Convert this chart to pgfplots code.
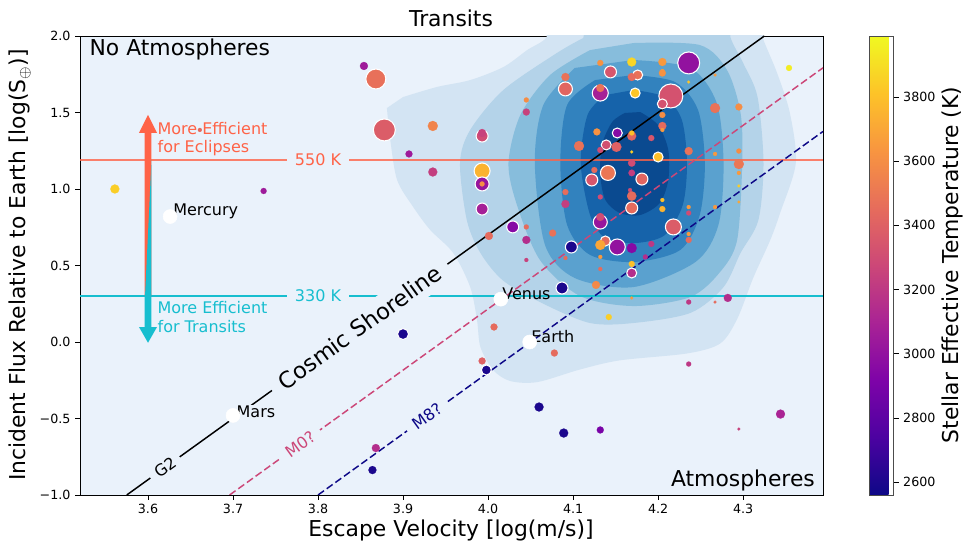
\documentclass[border=0pt]{standalone}
\usepackage{pgfplots}
\pgfplotsset{compat=1.18}
\usepackage{fontspec}
\setmainfont{DejaVu Sans}
\definecolor{bgblue}{HTML}{EAF2FB}
\definecolor{lv1}{HTML}{D3E4F3}
\definecolor{lv2}{HTML}{B4D3E9}
\definecolor{lv3}{HTML}{87BDDC}
\definecolor{lv4}{HTML}{5AA1CF}
\definecolor{lv5}{HTML}{3282BE}
\definecolor{lv6}{HTML}{1663AA}
\definecolor{lv7}{HTML}{0A4A90}
\definecolor{tomatoc}{HTML}{FF6347}
\definecolor{cyanc}{HTML}{17BECF}
\definecolor{mzero}{HTML}{CC4778}
\definecolor{meight}{HTML}{0D0887}
\pgfplotsset{colormap={plasma}{rgb255=(13,8,135) rgb255=(76,2,161) rgb255=(126,3,168) rgb255=(169,35,149) rgb255=(204,71,120) rgb255=(230,108,92) rgb255=(248,149,64) rgb255=(253,195,40) rgb255=(240,249,33)}}
\newcommand{\bigf}{\fontsize{16.4}{19.5}\selectfont}
\newcommand{\midf}{\fontsize{12}{13.8}\selectfont}
\newcommand{\tickf}{\fontsize{9.5}{11}\selectfont}
\begin{document}
\begin{tikzpicture}
\useasboundingbox (0,0) rectangle (723pt,408.75pt);
\begin{axis}[
  at={(60pt,37.5pt)}, anchor=south west,
  scale only axis, width=557.25pt, height=344.25pt,
  xmin=3.52, xmax=4.394, ymin=-1, ymax=2,
  axis background/.style={fill=bgblue},
  xtick={3.6,3.7,3.8,3.9,4.0,4.1,4.2,4.3},
  xticklabels={3.6,3.7,3.8,3.9,4.0,4.1,4.2,4.3},
  ytick={-1,-0.5,0,0.5,1,1.5,2},
  yticklabels={−1.0,−0.5,0.0,0.5,1.0,1.5,2.0},
  tick align=outside, tick pos=left,
  major tick length=3.6pt,
  tick style={black, line width=0.6pt},
  ticklabel style={font=\tickf},
  axis line style={black, line width=0.6pt},
  colormap name=plasma, point meta min=2560, point meta max=3990,
  colorbar,
  colorbar style={at={(parent axis.north east)}, anchor=north west, xshift=26.5pt, width=18pt,
    ytick={2600,2800,3000,3200,3400,3600,3800},
    yticklabels={2600,2800,3000,3200,3400,3600,3800},
    scaled y ticks=false, tick align=outside, ytick pos=right, yticklabel pos=right,
    major tick length=3.6pt, tick style={black, line width=0.6pt},
    yticklabel style={font=\tickf}, axis line style={black!70, line width=0.6pt}},
]
% KDE contour levels
\addplot[draw=none, fill=lv1, smooth] coordinates {(3.881,1.529) (3.885,1.320) (3.893,1.059) (3.912,0.882) (3.932,0.732) (3.959,0.582) (3.979,0.359) (3.987,0.144) (3.991,-0.033) (4.006,-0.183) (4.026,-0.255) (4.058,-0.262) (4.108,-0.18) (4.155,-0.12) (4.234,-0.075) (4.273,-0.01) (4.293,0.15) (4.312,0.42) (4.332,0.667) (4.344,0.85) (4.362,1.17) (4.355,1.497) (4.340,1.758) (4.324,1.974) (4.314,2.15) (4.073,2.15) (4.069,1.993) (4.046,1.908) (4.018,1.797) (3.979,1.712) (3.940,1.667) (3.900,1.601)} -- cycle;
\addplot[draw=none, fill=lv2, smooth] coordinates {(4.120,2.2) (4.279,2.2) (4.285,1.993) (4.300,1.824) (4.317,1.601) (4.324,1.170) (4.318,0.797) (4.297,0.582) (4.277,0.359) (4.238,0.190) (4.171,0.124) (4.120,0.124) (4.065,0.25) (4.018,0.40) (3.991,0.582) (3.975,0.797) (3.967,1.170) (3.979,1.386) (4.018,1.647) (4.081,1.889) (4.112,1.987)} -- cycle;
\addplot[draw=none, fill=lv3, smooth] coordinates {(4.171,1.954) (4.249,1.941) (4.281,1.778) (4.297,1.497) (4.299,1.170) (4.293,0.667) (4.273,0.458) (4.238,0.294) (4.171,0.235) (4.108,0.301) (4.061,0.536) (4.034,0.895) (4.024,1.170) (4.038,1.484) (4.073,1.745) (4.120,1.908)} -- cycle;
\addplot[draw=none, fill=lv4, smooth] coordinates {(4.171,1.843) (4.238,1.791) (4.269,1.562) (4.277,1.170) (4.271,0.765) (4.244,0.523) (4.171,0.359) (4.102,0.418) (4.067,0.634) (4.055,1.170) (4.065,1.549) (4.102,1.791)} -- cycle;
\addplot[draw=none, fill=lv5, smooth] coordinates {(4.171,1.745) (4.220,1.699) (4.247,1.516) (4.255,1.170) (4.249,0.830) (4.226,0.601) (4.172,0.523) (4.120,0.569) (4.093,0.765) (4.085,1.170) (4.093,1.549) (4.126,1.712)} -- cycle;
\addplot[draw=none, fill=lv6, smooth] coordinates {(4.171,1.647) (4.208,1.601) (4.228,1.451) (4.234,1.170) (4.229,0.895) (4.208,0.699) (4.173,0.647) (4.138,0.680) (4.120,0.830) (4.109,1.170) (4.117,1.484) (4.138,1.614)} -- cycle;
\addplot[draw=none, fill=lv7, smooth] coordinates {(4.179,1.503) (4.200,1.418) (4.212,1.255) (4.212,1.059) (4.202,0.908) (4.179,0.830) (4.155,0.843) (4.138,0.928) (4.132,1.092) (4.134,1.288) (4.146,1.438) (4.161,1.497)} -- cycle;
% horizontal temperature lines
\addplot[tomatoc, opacity=0.8, line width=1.5pt] coordinates {(3.52,1.19) (4.394,1.19)};
\addplot[cyanc, line width=1.5pt] coordinates {(3.52,0.30) (4.394,0.30)};
% shorelines
\addplot[black, line width=1.1pt] coordinates {(3.575,-1) (4.325,2)};
\addplot[mzero, line width=1.1pt, dash pattern=on 5.5pt off 2.5pt] coordinates {(3.696,-1) (4.394,1.792)};
\addplot[meight, line width=1.1pt, dash pattern=on 5.5pt off 2.5pt] coordinates {(3.8,-1) (4.394,1.376)};
% line labels
\node[fill=bgblue, text=tomatoc, inner xsep=6pt, inner ysep=1pt, font=\midf] at (axis cs:3.80,1.19) {550 K};
\node[fill=bgblue, text=cyanc, inner xsep=6pt, inner ysep=1pt, font=\midf] at (axis cs:3.80,0.30) {330 K};
\node[fill=bgblue, inner sep=1pt, anchor=west, font=\midf] at (axis cs:3.7024,-0.458) {Mars};
\node[fill=bgblue, rotate=35.8, inner xsep=8pt, inner ysep=5pt, font=\fontsize{16.9}{19}\selectfont] at (axis cs:3.849,0.096) {Cosmic Shoreline};
\node[fill=bgblue, rotate=35.8, inner xsep=5pt, inner ysep=1pt, font=\midf] at (axis cs:3.62,-0.82) {G2};
\node[fill=bgblue, rotate=35.8, text=mzero, inner xsep=6pt, inner ysep=1pt, font=\midf] at (axis cs:3.779,-0.668) {M0?};
\node[fill=bgblue, rotate=35.8, text=meight, inner xsep=6pt, inner ysep=1pt, font=\midf] at (axis cs:3.928,-0.488) {M8?};
% efficiency arrow
\addplot[draw=none, fill=tomatoc] coordinates {(3.5959,0.30) (3.5959,1.366) (3.5894,1.366) (3.600,1.484) (3.6106,1.366) (3.6041,1.366) (3.6041,0.30)} -- cycle;
\addplot[draw=none, fill=cyanc] coordinates {(3.6041,1.19) (3.6041,0.30) (3.5965,0.30)} -- cycle;
\addplot[draw=none, fill=cyanc] coordinates {(3.5959,0.31) (3.5959,0.098) (3.5894,0.098) (3.600,-0.005) (3.6106,0.098) (3.6041,0.098) (3.6041,0.31)} -- cycle;
\node[anchor=west, align=left, text=tomatoc, inner sep=0pt, font=\midf] at (axis cs:3.611,1.327) {More Efficient\\for Eclipses};
\node[anchor=west, align=left, text=cyanc, inner sep=0pt, font=\midf] at (axis cs:3.611,0.163) {More Efficient\\for Transits};
% planets with white outline
\addplot[scatter, only marks, mark=*, scatter src=explicit,
  scatter/use mapped color={draw=white, fill=mapped color},
  visualization depends on={\thisrow{r} \as \rr},
  scatter/@pre marker code/.append style={/tikz/mark size=0.75*\rr},
  line width=0.8pt] table[x=x, y=y, meta=t] {
x y t r
3.868 1.719 3470 10
3.878 1.386 3380 11
3.993 1.346 3300 6
3.993 1.118 3750 8
3.993 1.033 3020 7
3.993 0.869 3080 6
4.029 0.752 2950 6
4.091 1.654 3420 7
4.098 0.621 2600 6
4.132 1.627 3080 8
4.144 1.765 3350 6
4.139 1.288 3320 5
4.152 1.366 2950 5
4.141 1.105 3500 7.5
4.122 1.059 3350 6
4.132 0.784 3020 7
4.138 0.660 3450 5
4.152 0.621 3000 8
4.176 1.745 3480 5
4.173 1.627 3820 5
4.169 0.876 3450 6
4.181 1.065 3420 6
4.200 1.209 3800 5
4.169 0.451 3150 5
4.215 1.608 3330 12
4.205 1.556 3330 5
4.236 1.824 3000 11
4.218 0.752 3380 8
4.087 0.353 2600 6
3.998 -0.183 2600 5
3.900 0.052 2600 5.5
};
% planets without outline
\addplot[scatter, only marks, mark=*, scatter src=explicit,
  scatter/use mapped color={draw=mapped color, fill=mapped color},
  visualization depends on={\thisrow{r} \as \rr},
  scatter/@pre marker code/.append style={/tikz/mark size=0.75*\rr},
  line width=0.1pt] table[x=x, y=y, meta=t] {
x y t r
3.854 1.804 3050 4
3.935 1.412 3560 5
3.907 1.229 3050 3.5
3.935 1.111 3230 4.5
3.993 1.366 3250 4
3.993 1.033 3600 2.5
4.001 0.693 3450 4
3.561 1.000 3850 4.5
3.736 0.987 3050 3
3.661 1.386 3450 2
4.045 1.582 3600 2.5
4.045 1.503 3250 3.5
4.045 0.752 3450 2.5
4.045 0.667 3150 4
4.045 0.536 3250 2
4.076 0.712 3480 3.5
4.091 1.732 3480 4
4.091 0.980 3460 3
4.091 0.902 3230 4
4.091 0.549 3450 2
4.107 1.281 3480 5
4.128 1.373 3620 3.5
4.132 1.824 3620 3
4.132 1.660 3480 4
4.132 1.255 3300 3
4.125 1.124 3450 3
4.132 0.948 3300 2.5
4.132 0.817 3300 4
4.132 0.634 3700 5
4.132 0.556 3650 2
4.132 0.477 3450 2
4.151 1.275 3400 5
4.169 1.830 3870 4.5
4.169 1.732 3450 4
4.169 1.346 3420 4.5
4.169 1.366 3800 2.5
4.169 1.242 3850 1.5
4.169 1.170 3300 3.7
4.169 1.105 3230 3.3
4.167 0.993 3300 2
4.169 0.954 3450 4.7
4.192 1.333 3350 3
4.169 0.614 2950 5
4.169 0.510 3800 3
4.192 0.641 3200 3
4.185 0.556 3150 2.5
4.205 1.830 3650 4
4.205 1.771 3700 2
4.205 1.758 3620 3.5
4.205 1.484 3600 3
4.205 1.412 3450 4
4.205 1.386 3650 2
4.236 1.699 3820 1.5
4.236 1.248 3480 4
4.205 0.928 3800 2
4.205 0.869 3750 3
4.236 0.882 3650 2
4.236 0.843 3300 2.5
4.236 0.706 3650 2
4.236 0.667 3450 3
4.267 1.745 3650 1.5
4.267 1.529 3480 5
4.267 1.229 3650 2
4.267 0.882 3650 2
4.295 1.536 3600 3.5
4.295 1.248 3600 2.5
4.295 1.163 3500 5
4.295 1.105 3650 2
4.295 1.020 3850 1.5
4.295 0.915 3700 1.5
4.354 1.791 3950 3
4.127 0.373 3580 4
4.169 0.288 3650 1.5
4.142 0.163 3850 3
4.236 0.261 3200 2.5
4.267 0.261 3450 1.5
4.282 0.288 3150 4
4.007 0.098 3450 3.5
3.993 -0.124 3400 3.5
4.078 -0.072 3450 3.5
4.236 -0.144 3200 2.5
4.060 -0.425 2600 4.5
4.089 -0.595 2600 4.5
4.132 -0.575 2900 3.5
4.295 -0.569 3250 1.5
4.344 -0.471 3100 4.5
3.868 -0.693 3150 4
3.864 -0.837 2600 4
};
% solar system planets
\addplot[only marks, mark=*, mark size=5.25pt, mark options={draw=white, fill=white}] coordinates {(3.626,0.82) (4.015,0.28) (4.049,0.0) (3.70,-0.48)};
\node[anchor=west, inner sep=0pt, font=\midf] at (axis cs:3.6294,0.856) {Mercury};
\node[anchor=west, inner sep=0pt, font=\midf] at (axis cs:4.0165,0.314) {Venus};
\node[anchor=west, inner sep=0pt, font=\midf] at (axis cs:4.0506,0.033) {Earth};
\node[anchor=west, inner sep=0pt, font=\bigf] at (axis cs:3.531,1.915) {No Atmospheres};
\node[anchor=east, inner sep=0pt, font=\bigf] at (axis cs:4.3847,-0.902) {Atmospheres};
\end{axis}
\node[font=\bigf] at (338.25pt,395.25pt) {Transits};
\node[font=\bigf] at (338.25pt,11.25pt) {Escape Velocity [log(m/s)]};
\node[font=\bigf, rotate=90] at (15pt,210pt) {Incident Flux Relative to Earth [log(S$_\oplus$)]};
\node[font=\bigf, rotate=90] at (714pt,210pt) {Stellar Effective Temperature (K)};
\end{tikzpicture}
\end{document}
